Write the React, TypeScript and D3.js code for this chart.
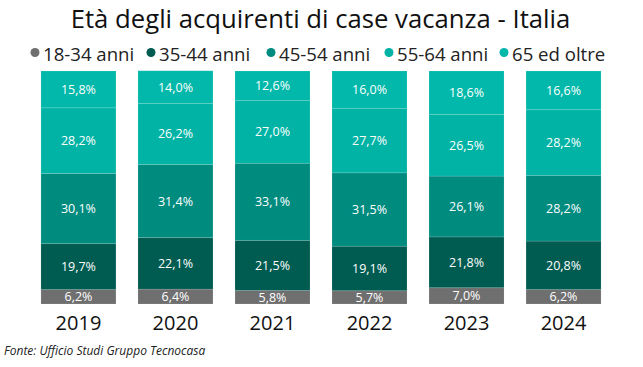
import * as d3 from "d3";
import { useEffect, useRef } from "react";

const years = ["2019", "2020", "2021", "2022", "2023", "2024"];
const groups = ["18-34 anni", "35-44 anni", "45-54 anni", "55-64 anni", "65 ed oltre"];
const colors = ["#6f6f6f", "#005b50", "#008b7f", "#00b3a5", "#01b8aa"];

const v1834 = [6.2, 6.4, 5.8, 5.7, 7.0, 6.2];
const v3544 = [19.7, 22.1, 21.5, 19.1, 21.8, 20.8];
const v4554 = [30.1, 31.4, 33.1, 31.5, 26.1, 28.2];
const v5564 = [28.2, 26.2, 27.0, 27.7, 26.5, 28.2];
const v65 = [15.8, 14.0, 12.6, 16.0, 18.6, 16.6];

const W = 643;
const H = 367;

export default function App() {
  const svgRef = useRef(null);

  useEffect(() => {
    const svg = d3.select(svgRef.current);
    svg.selectAll("*").remove();
    const font = "'Open Sans', 'Noto Sans', sans-serif";

    const rows = years.map((y, i) => ({
      year: y,
      "18-34 anni": v1834[i],
      "35-44 anni": v3544[i],
      "45-54 anni": v4554[i],
      "55-64 anni": v5564[i],
      "65 ed oltre": v65[i],
    }));
    const stack = d3.stack<any>().keys(groups)(rows);

    const x = d3.scaleBand().domain(years).range([30, 612]).paddingInner(0.227).paddingOuter(0.113);
    const y = d3.scaleLinear().domain([0, 100]).range([304, 71]);

    svg
      .append("text")
      .attr("x", 320.5)
      .attr("y", 28)
      .attr("text-anchor", "middle")
      .attr("font-family", font)
      .attr("font-size", 25.7)
      .attr("fill", "#111")
      .text("Età degli acquirenti di case vacanza - Italia");

    // legend
    const leg = svg.append("g").attr("font-family", font).attr("font-size", 18.6);
    const legX = [35, 151, 271, 389, 504];
    groups.forEach((g, i) => {
      leg.append("circle").attr("cx", legX[i]).attr("cy", 52.5).attr("r", 4.5).attr("fill", colors[i]);
      leg
        .append("text")
        .attr("x", legX[i] + 8)
        .attr("y", 61)
        .attr("fill", "#222")
        .text(g);
    });

    const fmt = (v: number) => d3.format(".1f")(v).replace(".", ",") + "%";

    stack.forEach((layer, li) => {
      const gr = svg.append("g");
      layer.forEach((d: any) => {
        const yr = d.data.year;
        gr.append("rect")
          .attr("x", x(yr)!)
          .attr("width", x.bandwidth())
          .attr("y", y(d[1]))
          .attr("height", y(d[0]) - y(d[1]))
          .attr("fill", colors[li])
          .attr("stroke", "rgba(255,255,255,0.12)")
          .attr("stroke-width", 1);
        gr.append("text")
          .attr("x", x(yr)! + x.bandwidth() / 2)
          .attr("y", (y(d[0]) + y(d[1])) / 2 + 4.5)
          .attr("text-anchor", "middle")
          .attr("font-family", font)
          .attr("font-size", 12.5)
          .attr("fill", "#fff")
          .text(fmt(d[1] - d[0]));
      });
    });

    svg
      .append("g")
      .selectAll("text")
      .data(years)
      .join("text")
      .attr("x", (d) => x(d)! + x.bandwidth() / 2)
      .attr("y", 330)
      .attr("text-anchor", "middle")
      .attr("font-family", font)
      .attr("font-size", 20)
      .attr("fill", "#111")
      .text((d) => d);

    svg
      .append("text")
      .attr("x", 4)
      .attr("y", 355)
      .attr("font-family", font)
      .attr("font-style", "italic")
      .attr("font-size", 12)
      .attr("fill", "#222")
      .text("Fonte: Ufficio Studi Gruppo Tecnocasa");
  }, []);

  return (
    <svg
      ref={svgRef}
      width={W}
      height={H}
      style={{ position: "absolute", left: 0, top: 0, background: "#fff" }}
    />
  );
}
